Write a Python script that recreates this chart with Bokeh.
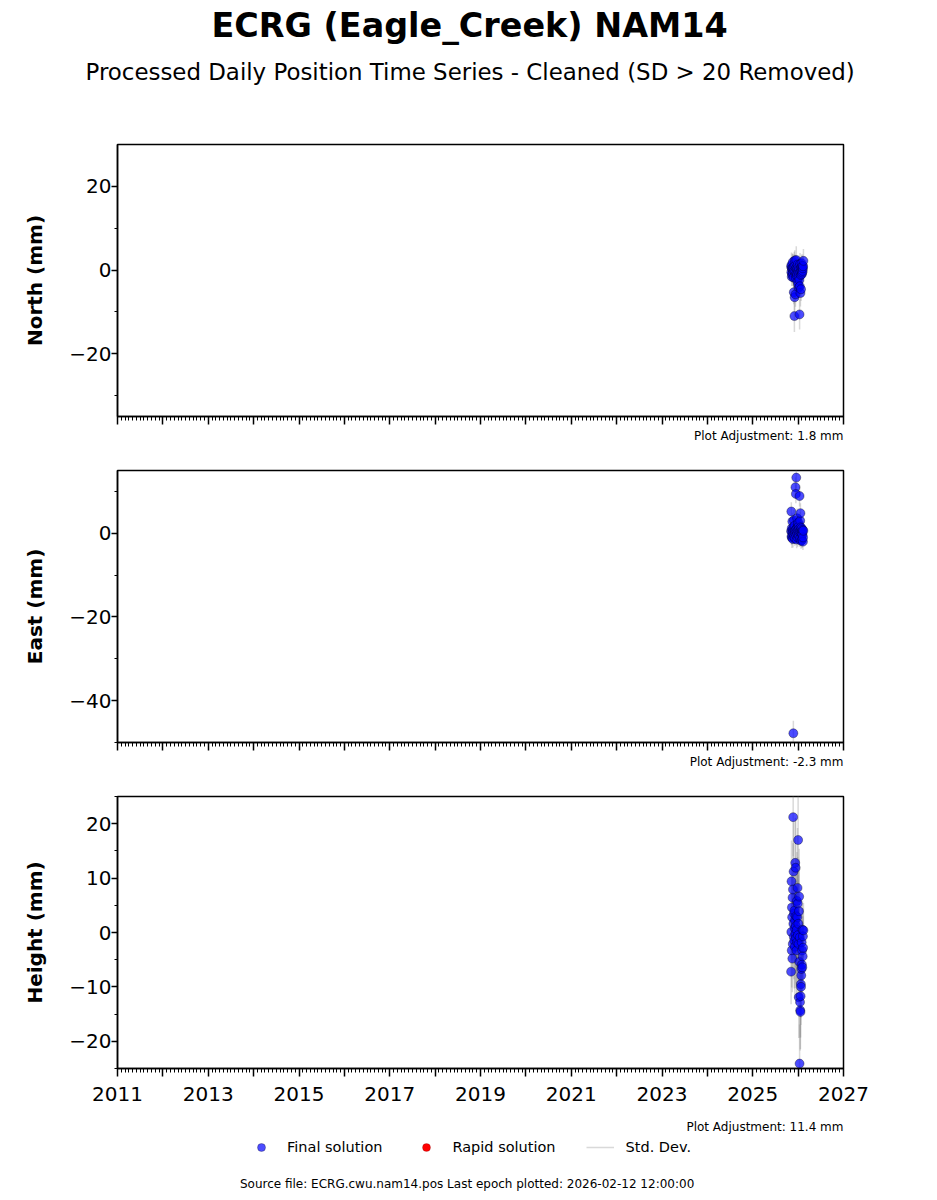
import numpy as np
from bokeh.plotting import figure
from bokeh.layouts import column
from bokeh.models import Range1d, FixedTicker, Title, Legend, LegendItem, CustomJSTickFormatter, Label
from bokeh.core.properties import value
from bokeh.embed import file_html
from bokeh.resources import INLINE

FONT = "DejaVu Sans"
BL, BR = 117, 94
XC = (468.5 - BL) / 726.0

title_text = "ECRG (Eagle_Creek) NAM14"
subtitle_text = "Processed Daily Position Time Series - Cleaned (SD > 20 Removed)"
source_text = "Source file: ECRG.cwu.nam14.pos  Last epoch plotted: 2026-02-12 12:00:00"

years = list(range(2011, 2028))

t = [2025.845, 2025.850, 2025.854, 2025.859, 2025.863, 2025.868, 2025.872, 2025.877, 2025.882, 2025.886,
     2025.891, 2025.895, 2025.900, 2025.904, 2025.909, 2025.914, 2025.918, 2025.923, 2025.927, 2025.932,
     2025.936, 2025.941, 2025.946, 2025.950, 2025.955, 2025.959, 2025.964, 2025.968, 2025.973, 2025.978,
     2025.982, 2025.987, 2025.991, 2025.996, 2026.000, 2026.005, 2026.010, 2026.014, 2026.019, 2026.023,
     2026.028, 2026.032, 2026.037, 2026.042, 2026.046, 2026.051, 2026.055, 2026.060, 2026.064, 2026.069,
     2026.074, 2026.078, 2026.083, 2026.087, 2026.092, 2026.096, 2026.101, 2026.106, 2026.110, 2026.117]

north = [0.8, -0.5, 1.2, -1.6, 0.3, -0.9, 0.5, -1.3, 1.9, 0.1,
         -0.7, 0.6, -1.8, -5.3, -0.2, 0.9, -11.0, -6.5, 2.3, -0.4,
         1.1, -5.8, -1.1, 0.4, -2.0, 2.4, -0.6, 0.7, -1.4, 0.2,
         -0.9, -2.8, 1.3, -0.3, -3.5, 0.6, -1.7, -4.2, 0.1, -0.8,
         -2.4, -10.6, -3.9, 1.4, -0.5, -5.5, 0.3, -1.2, -4.6, 0.8,
         -0.3, 1.6, -1.0, 0.5, -0.6, 1.0, -0.2, 0.4, 0.9, 2.2]
north_sd = [2.1, 2.4, 3.0, 2.2, 2.8, 1.9, 3.4, 2.5, 2.0, 2.7,
            2.3, 3.1, 2.6, 2.9, 2.2, 3.5, 3.8, 3.2, 2.4, 2.0,
            2.6, 3.0, 2.3, 2.8, 2.1, 3.3, 2.5, 2.2, 2.9, 2.4,
            2.7, 3.1, 2.0, 2.6, 3.4, 2.3, 2.8, 2.5, 2.1, 2.9,
            3.0, 3.6, 2.4, 2.7, 2.2, 3.2, 2.5, 2.0, 2.8, 2.3,
            2.6, 2.1, 2.9, 2.4, 2.2, 2.7, 2.5, 2.0, 2.3, 2.8]

east = [0.5, 5.2, -0.8, 1.2, -1.1, 0.3, 2.8, -0.5, 0.9, -1.4,
        0.2, -47.8, 1.5, -0.3, 3.1, -0.9, 0.6, 1.8, -1.2, 0.1,
        0.6, 11.0, 0.8, 9.4, -0.6, 13.3, 1.1, -1.5, 0.4, 3.6,
        -0.2, 1.3, -1.0, 0.7, 2.1, 2.5, -0.4, 1.6, 1.0, -0.7,
        0.3, 8.9, -1.3, 0.6, 3.0, 4.8, 1.4, 0.2, -1.8, 0.9,
        -0.9, 1.2, 0.0, -1.6, 0.5, -0.3, 0.8, -2.0, -1.0, 0.6]
east_sd = [1.8, 2.2, 2.0, 1.6, 2.4, 1.9, 2.1, 1.7, 2.3, 2.0,
           1.8, 3.0, 2.2, 1.9, 2.5, 1.6, 2.0, 2.3, 1.8, 2.1,
           1.9, 2.4, 1.7, 2.2, 2.0, 2.6, 1.8, 2.1, 1.9, 2.3,
           2.0, 1.7, 2.2, 1.9, 2.4, 2.1, 1.8, 2.0, 2.3, 1.7,
           2.1, 2.5, 1.9, 2.2, 2.0, 2.4, 1.8, 2.1, 1.9, 2.2,
           2.0, 1.7, 2.3, 1.9, 2.1, 1.8, 2.2, 2.0, 1.9, 2.1]

height = [-7.2, 0.1, 9.4, -3.3, 4.6, 2.8, -4.8, 6.4, -2.1, 7.9,
          21.2, 1.6, 11.2, -0.8, 3.5, -1.5, 4.0, 0.8, -2.6, 2.2,
          12.8, -0.2, 11.9, 1.2, -1.0, 3.0, -3.3, 0.5, 5.8, -1.8,
          2.8, 8.2, 5.3, -0.5, 17.0, 1.6, -2.1, -11.9, 3.9, 6.6,
          -5.4, -24.1, -0.9, -12.8, -14.3, -14.6, -11.7, -9.5, -10.0, -7.9,
          -6.7, -1.8, -5.9, -3.3, -6.4, 0.5, -4.4, -0.7, -2.8, 0.4]
height_sd = [6.0, 5.2, 7.5, 6.8, 5.5, 8.0, 6.2, 7.0, 5.8, 8.5,
             7.2, 6.5, 9.0, 7.8, 6.0, 8.8, 7.4, 6.6, 9.5, 7.0,
             8.2, 10.0, 9.2, 7.6, 8.4, 10.5, 9.8, 8.0, 9.0, 10.8,
             9.4, 11.0, 8.6, 10.2, 10.5, 9.0, 8.2, 7.5, 9.6, 8.8,
             7.0, 7.2, 8.0, 6.5, 7.4, 6.8, 7.6, 6.2, 7.0, 6.4,
             5.8, 6.6, 6.0, 5.6, 6.2, 5.4, 6.0, 5.2, 5.8, 5.0]

adjust = ["Plot Adjustment: 1.8 mm", "Plot Adjustment: -2.3 mm", "Plot Adjustment: 11.4 mm"]
labels = ["North (mm)", "East (mm)", "Height (mm)"]
yranges = [(-35, 30), (-50, 15), (-25, 25)]
ymajor = [[-20, 0, 20], [-40, -20, 0], [-20, -10, 0, 10, 20]]
yminor = [[-30, -10, 10], [-50, -30, -10, 10], [-25, -15, -5, 5, 15, 25]]
series = [(north, north_sd), (east, east_sd), (height, height_sd)]

months = [y + k / 12 for y in years[:-1] for k in range(1, 12)]

ymin_fmt = CustomJSTickFormatter(code="return tick < 0 ? '\\u2212' + Math.abs(tick).toFixed(0) : tick.toFixed(0);")


def blank(h):
    p = figure(frame_width=726, frame_height=h, x_range=Range1d(0, 1), y_range=Range1d(h, 0),
               x_axis_type=None, y_axis_type=None, output_backend="svg", toolbar_location=None,
               min_border_left=BL, min_border_right=BR, min_border_top=0, min_border_bottom=0)
    p.outline_line_color = None
    return p


def header():
    p = figure(frame_width=726, height=128, x_range=Range1d(0, 1), y_range=Range1d(0, 1),
               x_axis_type=None, y_axis_type=None, output_backend="svg", toolbar_location=None,
               min_border_left=BL, min_border_right=BR, min_border_top=0, min_border_bottom=0)
    p.outline_line_color = None
    sub = Title(text=subtitle_text, align="left", offset=-32, text_font=FONT, text_font_size="22.9px",
                text_font_style="normal", text_color="black", vertical_align="middle", standoff=14)
    ttl = Title(text=title_text, align="left", offset=94, text_font=FONT, text_font_size="33.4px",
                text_font_style="bold", text_color="black", vertical_align="middle", standoff=9)
    p.add_layout(sub, "above")
    p.add_layout(ttl, "above")
    return p


def panel(i, show_x):
    vals, sd = series[i]
    bottom = 44 if show_x else 38
    p = figure(frame_width=726, frame_height=272, x_range=Range1d(2011, 2027), y_range=Range1d(*yranges[i]),
               output_backend="svg", toolbar_location=None,
               min_border_left=BL, min_border_right=BR, min_border_top=16, min_border_bottom=bottom)
    p.grid.visible = False
    p.outline_line_color = "black"
    p.outline_line_width = 1.5
    p.background_fill_color = "white"
    v = np.array(vals)
    s = np.array(sd)
    p.segment(x0=t, y0=v - s, x1=t, y1=v + s, line_color="gray", line_alpha=0.3, line_width=1.5)
    p.scatter(x=t, y=vals, marker="circle", size=9, fill_color="blue", fill_alpha=0.7,
              line_color="black", line_width=0.5, line_alpha=0.7)

    xa = p.xaxis[0]
    xa.ticker = FixedTicker(ticks=years, minor_ticks=months)
    if show_x:
        xa.formatter = CustomJSTickFormatter(code="return (Math.round(tick) % 2 == 1) ? tick.toFixed(0) : '';")
    else:
        xa.formatter = CustomJSTickFormatter(code="return '';")
    ya = p.yaxis[0]
    ya.ticker = FixedTicker(ticks=ymajor[i], minor_ticks=yminor[i])
    ya.formatter = ymin_fmt
    ya.axis_label = labels[i]
    ya.axis_label_text_font = FONT
    ya.axis_label_text_font_style = "bold"
    ya.axis_label_text_font_size = "20px"
    ya.axis_label_text_color = "black"
    ya.axis_label_standoff = 19
    for ax in (xa, ya):
        ax.axis_line_color = "black"
        ax.axis_line_width = 1.5
        ax.major_tick_line_color = "black"
        ax.major_tick_line_width = 1.5
        ax.minor_tick_line_color = "black"
        ax.minor_tick_line_width = 1
        ax.major_tick_in = 0
        ax.minor_tick_in = 0
        ax.major_label_text_font = FONT
        ax.major_label_text_font_size = "20px"
        ax.major_label_text_color = "black"
    ya.major_tick_out = 6
    ya.minor_tick_out = 3
    ya.major_label_standoff = 0
    xa.major_tick_out = 8
    xa.minor_tick_out = 4
    xa.major_label_standoff = 10
    if not show_x:
        p.add_layout(Title(text=adjust[i], align="right", text_font=FONT, text_font_size="12px",
                           text_font_style="normal", text_color="black", standoff=5), "below")
    return p


def footer():
    h = 84
    p = blank(h)
    p.add_layout(Label(x=1.0, y=14, text=adjust[2], text_font=FONT, text_font_size="12px",
                       text_align="right", text_baseline="middle", text_color="black"))
    r1 = p.scatter(x=[-5], y=[-5], marker="circle", size=7, fill_color="blue", fill_alpha=0.7,
                   line_color="black", line_width=0.5, line_alpha=0.5)
    r2 = p.scatter(x=[-5], y=[-5], marker="circle", size=7, fill_color="red", line_color="black",
                   line_width=0.5, line_alpha=0.3)
    r3 = p.line(x=[-5, -6], y=[-5, -5], line_color="gray", line_alpha=0.3, line_width=1.5)
    leg = Legend(items=[LegendItem(label="Final solution", renderers=[r1]),
                        LegendItem(label="Rapid solution", renderers=[r2]),
                        LegendItem(label="Std. Dev.", renderers=[r3])],
                 orientation="horizontal", location=(130, 39), margin=0, padding=0,
                 glyph_width=28, glyph_height=20, label_height=20, label_standoff=12, spacing=30,
                 label_text_font=FONT, label_text_font_size="14.5px", label_text_color="black",
                 border_line_color=None, background_fill_alpha=0)
    p.add_layout(leg)
    p.add_layout(Label(x=XC, y=71, text=source_text, text_font=FONT, text_font_size="12px",
                       text_align="center", text_baseline="middle", text_color="black"))
    return p


layout = column(header(), panel(0, False), panel(1, False), panel(2, True), footer(), spacing=0)
open("out.html", "w").write(file_html(layout, INLINE))
